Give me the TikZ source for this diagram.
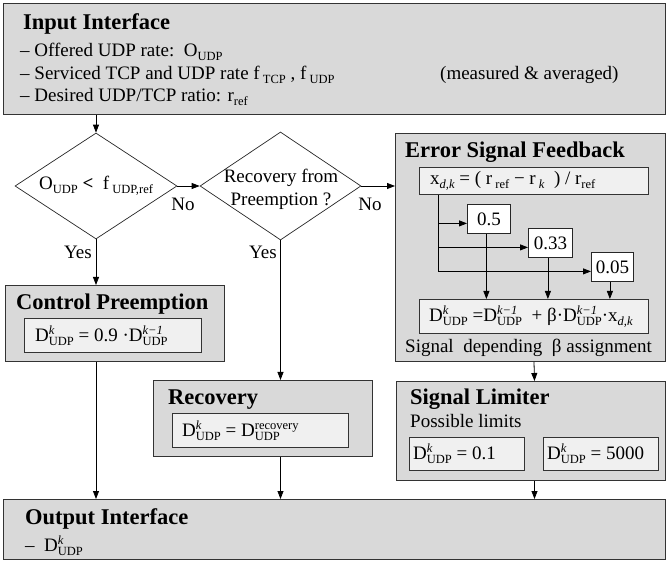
\documentclass[tikz,border=0pt]{standalone}
\usepackage{fontspec}
\setmainfont{Liberation Serif}
\usetikzlibrary{arrows.meta, positioning, shapes.geometric, calc}

\newcommand{\titlefont}{\fontsize{22.5}{27}\selectfont\bfseries}
\newcommand{\bodyfont}{\fontsize{19}{23}\selectfont}
% small script pieces for stacked indices
\newcommand{\upidx}[1]{\raisebox{7pt}{\fontsize{12.5}{12.5}\selectfont #1}}
\newcommand{\dnidx}[1]{\raisebox{-4pt}{\fontsize{12.5}{12.5}\selectfont #1}}
% D with italic superscript and UDP subscript, stacked
\newcommand{\DU}[1]{D\rlap{\upidx{\itshape #1}}\dnidx{UDP}}

\begin{document}
\begin{tikzpicture}[x=1pt, y=-1pt,
    panel/.style={draw=black!80, line width=1pt, fill=gray!30, anchor=north west, inner sep=0pt},
    formula/.style={draw=black!80, line width=0.8pt, fill=gray!12, anchor=north west, inner sep=0pt},
    gain/.style={draw=black!85, line width=0.8pt, fill=white, anchor=north west, inner sep=0pt, font=\bodyfont},
    decision/.style={diamond, draw=black!85, line width=0.7pt, fill=white, inner sep=0pt},
    heading/.style={anchor=base west, inner sep=0pt, font=\titlefont},
    txt/.style={anchor=base west, inner sep=0pt, font=\bodyfont},
    lbl/.style={inner sep=0pt, font=\bodyfont},
    flow/.style={line width=0.8pt, -{Triangle[length=8pt, width=6pt]}}
]
\useasboundingbox (0,0) rectangle (667,561);

% Input interface at top
\node[panel, minimum width=662pt, minimum height=111pt] (input) at (3,3) {};
\node[heading] (inhead) at (23,30) {Input Interface};
\node[txt] (in1) at (20,57) {\textendash\ Offered UDP rate:\ \ O\dnidx{UDP}};
\node[txt] (in2) at (20,79.5) {\textendash\ Serviced TCP and UDP rate f\,\dnidx{TCP} , f\,\dnidx{UDP}};
\node[txt] (in3) at (440,79.5) {(measured \& averaged)};
\node[txt] (in4) at (20,102) {\textendash\ Desired UDP/TCP ratio: r\dnidx{ref}};

% Decisions
\node[decision, minimum width=162pt, minimum height=106pt] (d1) at (96,186) {};
\node[lbl] (d1txt) at (d1.center) {O\dnidx{UDP} \textbf{<}\ \ f\,\dnidx{UDP,ref}};
\node[decision, minimum width=161pt, minimum height=108pt] (d2) at (280.5,186) {};
\node[lbl, align=center] (d2txt) at (281,189) {Recovery from\\Preemption ?};

% Control preemption
\node[panel, minimum width=219pt, minimum height=76pt] (cp) at (5,285) {};
\node[heading] (cphead) at (16,310) {Control Preemption};
\node[formula, minimum width=177pt, minimum height=34pt] (cpform) at (24,318) {};
\node[lbl, anchor=west] at ([xshift=11pt]cpform.west) {\DU{k} = 0.9 ·\DU{k−1}};

% Recovery
\node[panel, minimum width=219pt, minimum height=76pt] (rec) at (153,380) {};
\node[heading] (rechead) at (168,404) {Recovery};
\node[formula, minimum width=176pt, minimum height=34pt] (recform) at (172,413) {};
\node[lbl, anchor=west] at ([xshift=10pt]recform.west) {\DU{k} = D\rlap{\dnidx{UDP}}\upidx{recovery}};

% Error signal feedback
\node[panel, minimum width=270pt, minimum height=228pt] (efb) at (395,133) {};
\node[heading] (efbhead) at (405,158) {Error Signal Feedback};
\node[formula, minimum width=229pt, minimum height=27pt] (xdk) at (419,167) {};
\node[lbl, anchor=west] at ([xshift=11pt]xdk.west) {x\dnidx{\itshape d,k} = ( r\,\dnidx{ref} − r\,\dnidx{\itshape k}\ \ ) / r\dnidx{ref}};
\node[gain, minimum width=43pt, minimum height=29pt] (g05) at (467,204) {0.5};
\node[gain, minimum width=44pt, minimum height=29pt] (g033) at (528,228) {0.33};
\node[gain, minimum width=42pt, minimum height=29pt] (g005) at (591,252) {0.05};
\node[formula, minimum width=229pt, minimum height=34pt] (dform) at (419,299) {};
\node[lbl, anchor=west] at ([xshift=10pt]dform.west) {\DU{k} =\DU{k−1}\ \ + β·\DU{k−1}·x\dnidx{\itshape d,k}};
\node[txt] (betatxt) at (405,353) {Signal\ \ depending\ \ β assignment};

% Signal limiter
\node[panel, minimum width=269pt, minimum height=99pt] (lim) at (396,381) {};
\node[heading] (limhead) at (410,405) {Signal Limiter};
\node[txt] (limtxt) at (410,428) {Possible limits};
\node[formula, minimum width=115pt, minimum height=33pt] (lim1) at (409,437) {};
\node[lbl, anchor=west] at ([xshift=4pt]lim1.west) {\DU{k} = 0.1};
\node[formula, minimum width=115pt, minimum height=33pt] (lim2) at (543,437) {};
\node[lbl, anchor=west] at ([xshift=4pt]lim2.west) {\DU{k} = 5000};

% Output interface at bottom
\node[panel, minimum width=662pt, minimum height=60pt] (out) at (3,499) {};
\node[heading] (outhead) at (25,524) {Output Interface};
\node[txt] (out1) at (25,551) {\textendash\ \ \DU{k}};

% Connections
\draw[flow] (input.south -| d1.north) -- (d1.north);
\draw[flow] (d1.east) -- (d2.west);
\node[lbl] at (183,204) {No};
\draw[flow] (d2.east) -- (d2.east -| efb.west);
\node[lbl] at (370,204) {No};
\draw[flow] (d1.south) -- (d1.south |- cp.north);
\node[lbl] at (78,252) {Yes};
\draw[flow] (d2.south) -- (d2.south |- rec.north);
\node[lbl] at (263,252) {Yes};
\draw[flow] (cp.south -| d1.south) -- (d1.south |- out.north);
\draw[flow] (rec.south -| d2.south) -- (d2.south |- out.north);
\draw[flow] ([xshift=3.5pt]efb.south) -- ([xshift=3.5pt]lim.north);
\draw[flow] ([xshift=3.5pt]lim.south) -- ([xshift=3.5pt]lim.south |- out.north);

% Gain branches
\coordinate (tap) at ([xshift=19pt]xdk.south west);
\draw[line width=0.8pt] (tap) -- ($(tap |- g005.west)+(0,4.5)$);
\foreach \g in {g05,g033,g005} {
    \draw[flow] ($(tap |- \g.west)+(0,4.5)$) -- ([yshift=-4.5pt]\g.west);
    \draw[flow] ([xshift=-2.5pt]\g.south) -- ([xshift=-2.5pt]\g.south |- dform.north);
}

\end{tikzpicture}
\end{document}
